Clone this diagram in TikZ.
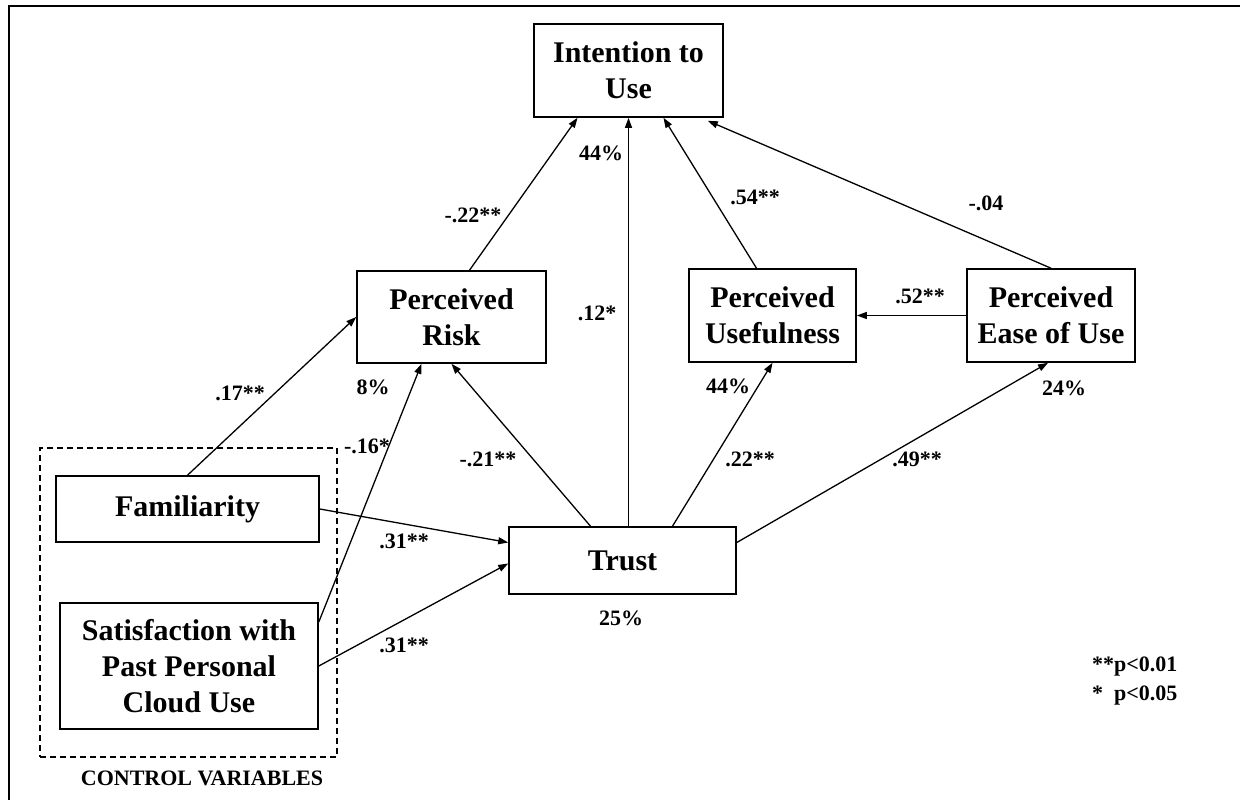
\documentclass[tikz,border=0pt]{standalone}
\usepackage{fontspec}
\setmainfont{Liberation Serif}
\usetikzlibrary{arrows.meta,calc}
\begin{document}
\begin{tikzpicture}[x=1pt,y=-1pt,
  box/.style={draw,line width=1.6pt,align=center,inner sep=0pt,font=\fontsize{30}{36}\selectfont\bfseries},
  lab/.style={font=\fontsize{22}{26}\selectfont\bfseries,inner sep=0pt},
  con/.style={line width=1.3pt,-{Triangle[length=10pt,width=7pt]}},
]
\useasboundingbox (0,0) rectangle (1240,800);
\draw[line width=2pt] (9,800) -- (9,6) -- (1240,6);

\node[box,minimum width=189pt,minimum height=93pt] (itu) at (628.5,70.5) {Intention to\\Use};
\node[box,minimum width=189pt,minimum height=92pt] (pr) at (451.5,317) {Perceived\\Risk};
\node[box,minimum width=167pt,minimum height=93pt] (pu) at (772.5,315.5) {Perceived\\Usefulness};
\node[box,minimum width=168pt,minimum height=93pt] (peou) at (1051,315.5) {Perceived\\Ease of Use};
\node[box,minimum width=227pt,minimum height=67pt] (trust) at (622.5,560.5) {Trust};
\node[box,minimum width=263pt,minimum height=66pt] (fam) at (187.5,509) {Familiarity};
\node[box,minimum width=258pt,minimum height=126pt] (sat) at (189,666) {Satisfaction with\\Past Personal\\Cloud Use};
\node[draw,line width=1.2pt,dash pattern=on 6pt off 4pt,minimum width=297pt,minimum height=309pt] (ctrl) at (188.5,602.5) {};

\draw[con] (fam.north) -- (pr.west);
\draw[con] ($(sat.east)+(0,-44)$) -- ($(pr.south)+(-30,0)$);
\draw[con] ($(trust.north)+(-32,0)$) -- (pr.south);
\draw[con] (trust.north -| itu.south) -- (itu.south);
\draw[con] ($(pr.north)+(18,0)$) -- ($(itu.south)+(-51,0)$);
\draw[con] ($(pu.north)+(-16,0)$) -- ($(itu.south)+(35,0)$);
\draw[con] (peou.north) -- ($(itu.south east)+(-16,3)$);
\draw[con] (peou.west) -- (pu.east);
\draw[con] ($(trust.north)+(50,0)$) -- (pu.south);
\draw[con] ($(trust.east)+(0,-18)$) -- ($(peou.south)+(-3,0)$);
\draw[con] (fam.east) -- ($(trust.west)+(0,-18)$);
\draw[con] (sat.east) -- ($(trust.west)+(0,3)$);

\node[lab] (l17) at (240,393) {.17**};
\node[lab] (l16) at (367,446) {-.16*};
\node[lab] (l21) at (488,459) {-.21**};
\node[lab] (l12) at (597,313) {.12*};
\node[lab] (l22a) at (473,215) {-.22**};
\node[lab] (l54) at (755,197) {.54**};
\node[lab] (l04) at (986,203) {-.04};
\node[lab] (l52) at (920,296) {.52**};
\node[lab] (l22b) at (750,459) {.22**};
\node[lab] (l49) at (917,459) {.49**};
\node[lab] (l31a) at (404,541) {.31**};
\node[lab] (l31b) at (404,645) {.31**};
\node[lab] (r44a) at (601,153) {44\%};
\node[lab] (r8) at (373,387) {8\%};
\node[lab] (r44b) at (728,386) {44\%};
\node[lab] (r24) at (1064,388) {24\%};
\node[lab] (r25) at (621,618) {25\%};
\node[lab,anchor=base west] (p1) at (1092,671) {**p<0.01};
\node[lab,anchor=base west] (p2) at (1092,700) {*\phantom{*}p<0.05};
\node[lab] (cv) at (202,778) {CONTROL VARIABLES};
\end{tikzpicture}
\end{document}
